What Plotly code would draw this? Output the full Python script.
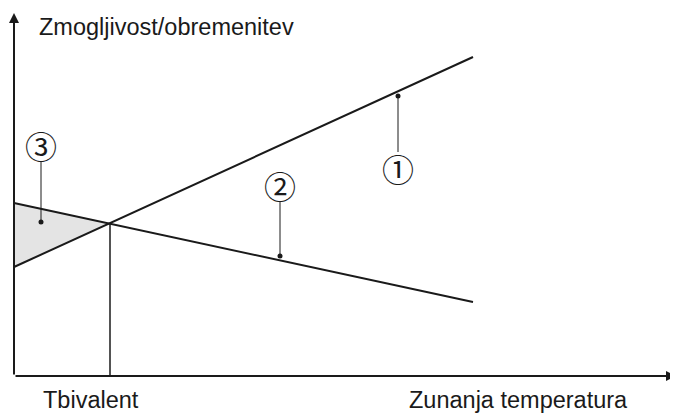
import plotly.graph_objects as go

# schematic values (arbitrary units)
temp = [0, 459]
capacity = [109, 319]      # (1) heat pump capacity
load = [173, 74]           # (2) building load
t_biv = 96
p_biv = 153
x_max = 662
y_max = 363

# callout markers: label, x, label y, top of leader, point on curve
callouts = [
    ('①', 384, 208, 224, 280),
    ('②', 266, 191, 174, 120),
    ('③', 27, 231, 214, 154),
]

fig = go.Figure()

# area (3): capacity below load, left of bivalent point
fig.add_trace(go.Scatter(
    x=[temp[0], t_biv, temp[0], temp[0]],
    y=[load[0], p_biv, capacity[0], load[0]],
    fill='toself', fillcolor='#e4e4e4', mode='lines',
    line=dict(width=0), hoverinfo='skip'))

fig.add_trace(go.Scatter(x=temp, y=capacity, mode='lines',
                         line=dict(color='#1a1a1a', width=2)))
fig.add_trace(go.Scatter(x=temp, y=load, mode='lines',
                         line=dict(color='#1a1a1a', width=2)))
fig.add_trace(go.Scatter(x=[t_biv, t_biv], y=[0, p_biv], mode='lines',
                         line=dict(color='#1a1a1a', width=1.5)))

for lab, x, ylab, ytop, ydot in callouts:
    fig.add_trace(go.Scatter(x=[x, x], y=[ytop, ydot], mode='lines',
                             line=dict(color='#1a1a1a', width=1)))
    fig.add_trace(go.Scatter(x=[x], y=[ydot], mode='markers',
                             marker=dict(color='#1a1a1a', size=5)))
    fig.add_annotation(x=x, y=ylab, text=lab, showarrow=False,
                       font=dict(family='Noto Sans CJK JP', size=32, color='#1a1a1a'))

# axes with arrows
fig.add_annotation(x=0, y=y_max, ax=0, ay=0, axref='x', ayref='y', text='',
                   showarrow=True, arrowhead=2, arrowsize=1, arrowwidth=2, arrowcolor='#1a1a1a')
fig.add_annotation(x=x_max, y=0, ax=0, ay=0, axref='x', ayref='y', text='',
                   showarrow=True, arrowhead=2, arrowsize=1, arrowwidth=2, arrowcolor='#1a1a1a')

txt = dict(family='Liberation Sans, Arial', size=23.5, color='#1a1a1a')
fig.add_annotation(x=23, y=349, text='Zmogljivost/obremenitev', showarrow=False,
                   xanchor='left', font=txt)
fig.add_annotation(x=t_biv - 19, y=-24, text='Tbivalent', showarrow=False, font=txt)
fig.add_annotation(x=504, y=-24, text='Zunanja temperatura', showarrow=False, font=txt)

# page body keeps an 8px margin, so the figure is 8px smaller
fig.update_layout(
    width=670, height=409, showlegend=False,
    margin=dict(l=0, r=0, t=0, b=0),
    plot_bgcolor='white', paper_bgcolor='white',
    xaxis=dict(range=[-6, 664], visible=False, fixedrange=True),
    yaxis=dict(range=[-41, 368], visible=False, fixedrange=True),
)

fig.write_html("out.html")
